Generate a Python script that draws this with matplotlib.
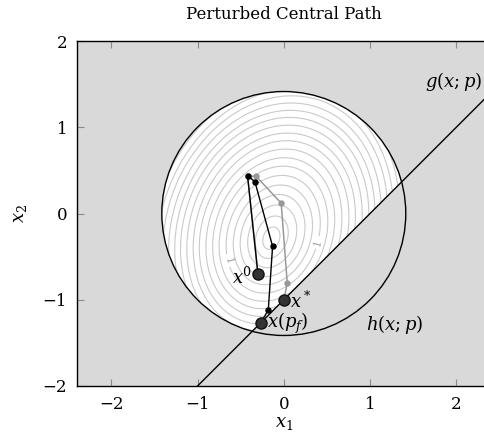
import numpy as np
import matplotlib
matplotlib.use("Agg")
import matplotlib.pyplot as plt
from matplotlib.patches import Polygon, Circle

plt.rcParams["font.family"] = ["DejaVu Serif"]
plt.rcParams["mathtext.fontset"] = "dejavuserif"

# ---- data -------------------------------------------------------------
# nominal central path (grey) and perturbed central path (black)
nominal_x1 = [-0.30, -0.42, -0.32, -0.03, 0.04, 0.00]
nominal_x2 = [-0.70, 0.435, 0.43, 0.12, -0.81, -1.00]
perturbed_x1 = [-0.30, -0.42, -0.335, -0.13, -0.18, -0.27]
perturbed_x2 = [-0.70, 0.435, 0.37, -0.38, -1.12, -1.27]

start_point = (-0.30, -0.70)       # x^0
nominal_opt = (0.00, -1.00)        # x^*
perturbed_opt = (-0.27, -1.27)     # x(p_f)

# feasible set: disc x1^2 + x2^2 <= 2 and half plane x2 >= x1 - 1
disc_radius = np.sqrt(2.0)
g_slope, g_intercept = 1.0, -1.0

# objective contour levels and where the "1" labels sit
contour_levels = [0.17, 0.33, 0.5, 0.67, 0.83, 1.17, 1.33, 1.5, 1.67,
                  1.83, 2.0, 2.17, 2.33, 2.5, 2.67, 2.83, 3.0, 3.17, 3.33]
labelled_level = 1.0
label_positions = [(-0.66, -0.55), (0.41, -0.34)]

# objective: tilted elliptic norm + isotropic quadratic - linear tilt
obj_center = np.array([-0.15, -0.30])
obj_angle = np.radians(70.0)
obj_axes = (0.8, 0.56)
obj_quad = 0.27
obj_tilt = np.array([0.067, 0.135])


def objective(x1, x2):
    d1 = x1 - obj_center[0]
    d2 = x2 - obj_center[1]
    c, s = np.cos(obj_angle), np.sin(obj_angle)
    zu = (c * d1 + s * d2) / obj_axes[0]
    zv = (-s * d1 + c * d2) / obj_axes[1]
    return (np.hypot(zu, zv) + obj_quad * (d1 ** 2 + d2 ** 2)
            - obj_tilt[0] * d1 - obj_tilt[1] * d2)


# ---- figure -----------------------------------------------------------
fig = plt.figure(figsize=(4.85, 4.42), dpi=100)
ax = fig.add_axes([76 / 485, 56 / 442, 415.6 / 485, 345 / 442])
ax.set_xlim(-2.4, 2.4)
ax.set_ylim(-2, 2)
ax.set_aspect("equal", adjustable="box")
ax.set_facecolor("#d9d9d9")

# feasible region (disc cut by the line) in white
qa = 1 + g_slope ** 2
qb = 2 * g_slope * g_intercept
qc = g_intercept ** 2 - disc_radius ** 2
root = np.sqrt(qb * qb - 4 * qa * qc)
xa = (-qb + root) / (2 * qa)
xb = (-qb - root) / (2 * qa)
th0 = np.arctan2(g_slope * xa + g_intercept, xa)
th1 = np.arctan2(g_slope * xb + g_intercept, xb) + 2 * np.pi
theta = np.linspace(th0, th1, 400)
feas = Polygon(np.column_stack([disc_radius * np.cos(theta),
                                disc_radius * np.sin(theta)]),
               closed=True, facecolor="white", edgecolor="none", zorder=1)
ax.add_patch(feas)

# objective contours inside the feasible region
gx = np.linspace(-1.6, 1.6, 600)
gy = np.linspace(-1.6, 1.6, 600)
X, Y = np.meshgrid(gx, gy)
F = objective(X, Y)
cs = ax.contour(X, Y, F, levels=contour_levels, colors="#cacaca",
                linewidths=0.8, zorder=2)
cs.set_clip_path(feas)
cs1 = ax.contour(X, Y, F, levels=[labelled_level], colors="#cacaca",
                 linewidths=0.8, zorder=2)
ax.clabel(cs1, manual=label_positions, fmt="%g",
          fontsize=8, colors="#a8a8a8", inline=True, inline_spacing=3)
cs1.set_clip_path(feas)

# constraint boundaries
ax.add_patch(Circle((0, 0), disc_radius, fill=False, edgecolor="black",
                    linewidth=1.0, zorder=3))
ax.axline((0, g_intercept), slope=g_slope, color="black", linewidth=1.0,
          zorder=3)

# central paths
ax.plot(nominal_x1, nominal_x2, color="#999999", linewidth=1.1,
        marker="o", markersize=3.6, zorder=4)
ax.plot(perturbed_x1, perturbed_x2, color="black", linewidth=1.0,
        marker="o", markersize=3.6, zorder=5)
for pt in (start_point, nominal_opt, perturbed_opt):
    ax.plot(*pt, marker="o", markersize=8, markerfacecolor="#333333",
            markeredgecolor="#111111", zorder=6)

# annotations
ax.text(-0.37, -0.74, "$x^0$", fontsize=13, ha="right", va="center", zorder=7)
ax.text(0.07, -1.02, "$x^*$", fontsize=13, ha="left", va="center", zorder=7)
ax.text(-0.19, -1.28, "$x(p_f)$", fontsize=13, ha="left", va="center", zorder=7)
ax.text(1.28, -1.29, "$h(x;p)$", fontsize=13, ha="center", va="center", zorder=7)
ax.text(1.64, 1.53, "$g(x;p)$", fontsize=13, ha="left", va="center", zorder=7)

ax.set_xticks([-2, -1, 0, 1, 2])
ax.set_yticks([-2, -1, 0, 1, 2])
ax.tick_params(direction="in", top=True, right=True, length=5,
               color="#8a8a8a", labelsize=12, pad=7)
for sp in ax.spines.values():
    sp.set_linewidth(1.0)

ax.set_xlabel("$x_1$", fontsize=13, labelpad=1)
ax.set_ylabel("$x_2$", fontsize=13, labelpad=10)
ax.set_title("Perturbed Central Path", fontsize=12, pad=16)

fig.savefig("out.png", dpi=100)
